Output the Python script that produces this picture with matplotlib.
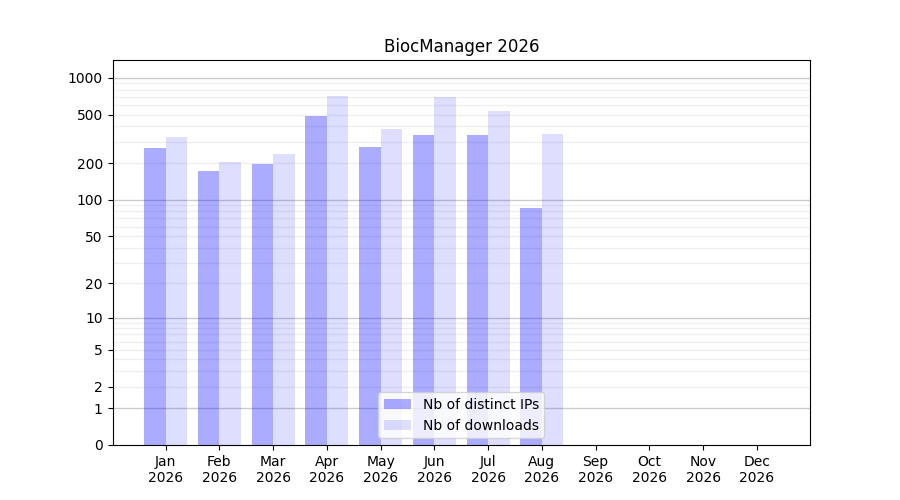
import numpy as np
import matplotlib
matplotlib.use("Agg")
import matplotlib.pyplot as plt
from matplotlib.ticker import FixedLocator

months = ['Jan', 'Feb', 'Mar', 'Apr', 'May', 'Jun', 'Jul', 'Aug', 'Sep', 'Oct', 'Nov', 'Dec']
year = 2026
nb_ips = [264, 171, 198, 492, 269, 343, 343, 85, 0, 0, 0, 0]
nb_downloads = [331, 206, 236, 717, 378, 691, 540, 350, 0, 0, 0, 0]

major_ticks = [0, 1, 2, 5, 10, 20, 50, 100, 200, 500, 1000]
grid_major = [1, 10, 100, 1000]
grid_minor = [v * m for m in (1, 10, 100) for v in range(2, 10)]

fig, ax = plt.subplots(figsize=(9, 5), dpi=100)
x = np.arange(len(months))
ax.bar(x - 0.2, nb_ips, width=0.4, color='b', alpha=0.33, label='Nb of distinct IPs')
ax.bar(x + 0.2, nb_downloads, width=0.4, color='b', alpha=0.13, label='Nb of downloads')

ax.set_yscale('function', functions=(np.log1p, np.expm1))
ax.set_ylim(0, 1400)
ax.yaxis.set_major_locator(FixedLocator(major_ticks))
ax.set_yticklabels([str(t) for t in major_ticks])
ax.yaxis.set_minor_locator(FixedLocator([]))

for g in grid_major:
    ax.axhline(g, color='gray', alpha=0.4, linewidth=1, zorder=0)
for g in grid_minor:
    ax.axhline(g, color='gray', alpha=0.12, linewidth=1, zorder=0)

ax.set_xticks(x)
ax.set_xticklabels(['%s\n%d' % (m, year) for m in months])
ax.set_title('BiocManager %d' % year)
ax.legend(loc='lower center')

fig.savefig('out.png')
